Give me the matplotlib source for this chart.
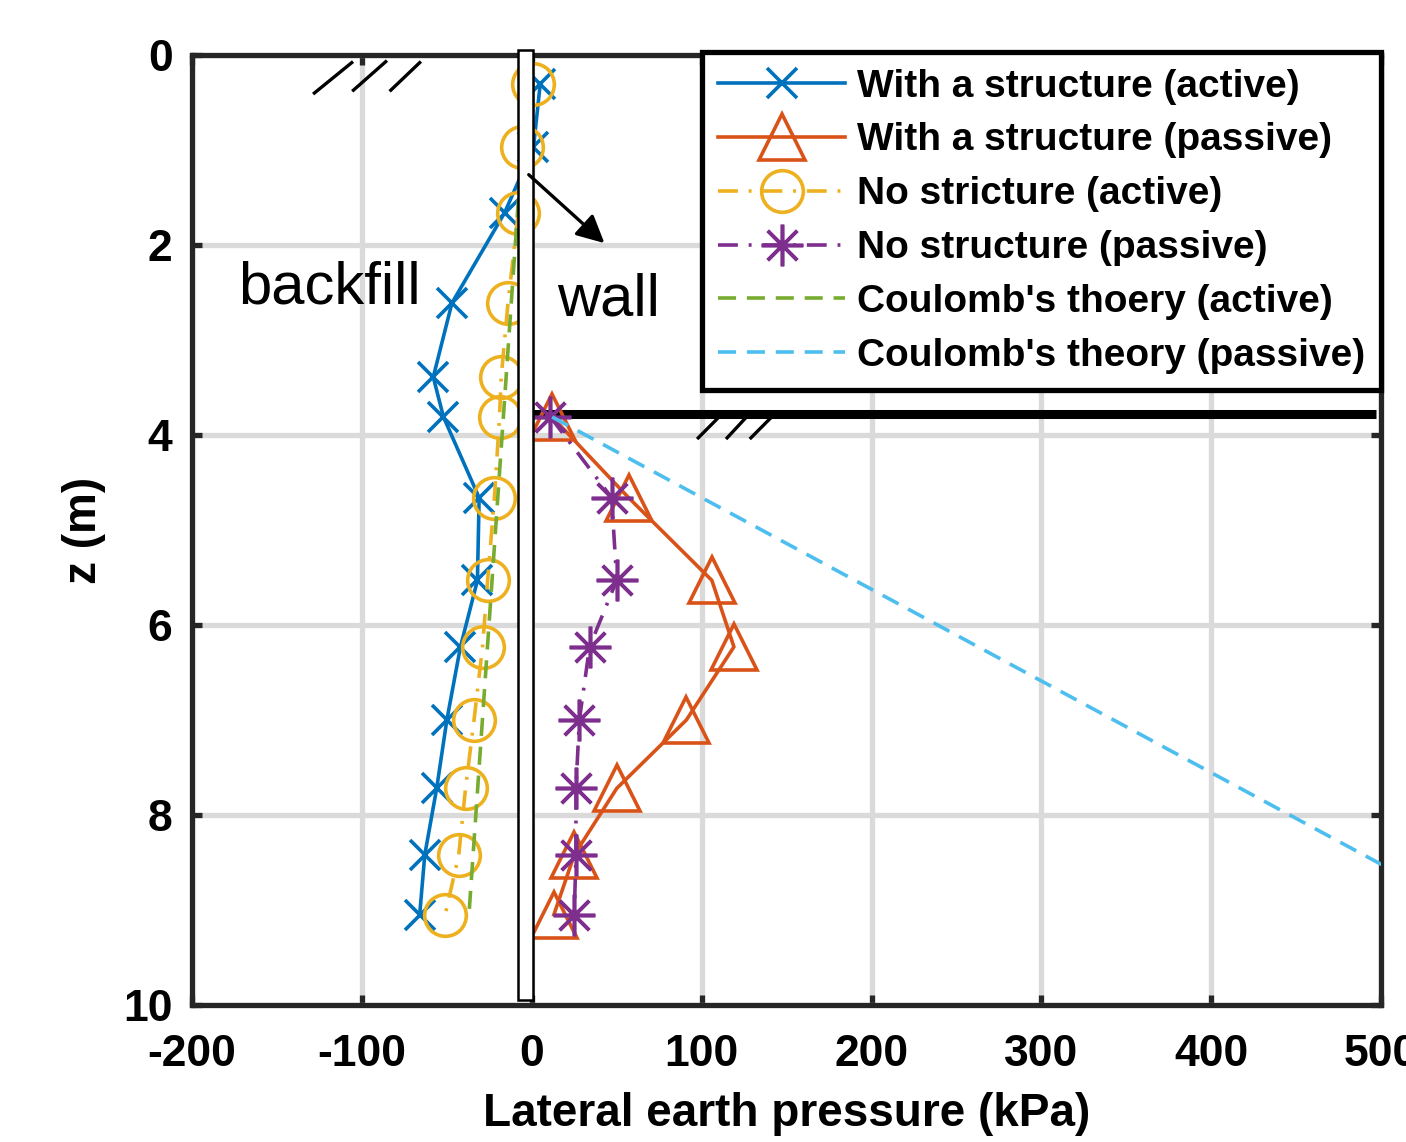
import matplotlib
matplotlib.use('Agg')
import matplotlib.pyplot as plt
from matplotlib.patches import Rectangle

# measured lateral earth pressure (kPa) vs depth z (m)
depth = [0.3, 0.97, 1.66, 2.61, 3.39, 3.81, 4.66, 5.53, 6.23, 7.0, 7.72, 8.42, 9.05]
struct_active = [5, 1, -16, -47, -58, -52, -31, -32, -42, -50, -56, -63, -66]
nostruct_active = [1, -6, -8, -14, -18, -19, -22, -26, -29, -34, -39, -43, -51]

depth_passive = [3.81, 4.66, 5.53, 6.23, 7.0, 7.72, 8.42, 9.05]
struct_passive = [12, 57, 106, 119, 91, 50, 25, 13]
nostruct_passive = [11, 47, 50, 34, 28, 26, 26, 25]

# Coulomb's theory lines
coulomb_active_z = [0.0, 9.05]
coulomb_active = [-2, -37]
coulomb_passive_z = [3.81, 9.05]
coulomb_passive = [12, 555]

labels = ["With a structure (active)", "With a structure (passive)",
          "No stricture (active)", "No structure (passive)",
          "Coulomb's thoery (active)", "Coulomb's theory (passive)"]

# sketch elements: wall, ground surfaces, hatching, arrow
wall_x = [-8, 1]
wall_z = [-0.05, 9.95]
ground_passive_z = 3.78
ground_passive_x = [1, 497]
hatch_top = [([-128, -106], [0.40, 0.08]), ([-105, -86], [0.37, 0.07]), ([-83, -66], [0.37, 0.08])]
hatch_passive = [([98, 113], [4.03, 3.76]), ([115, 129], [4.03, 3.76]), ([129, 144], [4.03, 3.76])]
arrow_from = (-3, 1.24)
arrow_to = (44, 2.0)

plt.rcParams['font.family'] = ['Liberation Sans', 'DejaVu Sans']
plt.rcParams['font.weight'] = 'bold'
plt.rcParams['axes.labelweight'] = 'bold'
plt.rcParams['axes.unicode_minus'] = False

fig = plt.figure(figsize=(14.06, 11.42), dpi=100)
ax = fig.add_axes([0.1366, 0.12, 0.8457, 0.8318])

lw = 2.6
mew = 2.6
dash = (5, 3)
dashdot = (5.5, 3, 0.8, 3)

ax.plot(struct_active, depth, '-', color='#0072BD', lw=lw, marker='x', ms=21, mew=mew, zorder=3)
ax.plot(struct_passive, depth_passive, '-', color='#D95319', lw=lw, marker='^', ms=33,
        mfc='none', mew=mew, zorder=3)
ax.plot(nostruct_active, depth, color='#EDB120', lw=lw, dashes=dashdot, marker='o', ms=30,
        mfc='none', mew=mew, zorder=3)
ax.plot(nostruct_passive, depth_passive, color='#7E2F8E', lw=lw, dashes=dashdot,
        marker=(8, 2, 0), ms=30, mew=mew, zorder=3)
ax.plot(coulomb_active, coulomb_active_z, color='#77AC30', lw=lw, dashes=dash, zorder=3)
ax.plot(coulomb_passive, coulomb_passive_z, color='#4DBEEE', lw=lw, dashes=dash, zorder=3)

# wall
ax.add_patch(Rectangle((wall_x[0], wall_z[0]), wall_x[1] - wall_x[0], wall_z[1] - wall_z[0],
                       facecolor='white', edgecolor='black', lw=1.8, zorder=5, clip_on=False))
# ground surface on passive side
ax.plot(ground_passive_x, [ground_passive_z] * 2, color='black', lw=6.5, zorder=2.5,
        solid_capstyle='butt')
for xs, zs in hatch_top + hatch_passive:
    ax.plot(xs, zs, color='black', lw=2.4, zorder=2.5)
ax.annotate('', xy=arrow_to, xytext=arrow_from,
            arrowprops=dict(arrowstyle='-|>', color='black', lw=2.4, mutation_scale=42),
            zorder=6)

ax.text(-119, 2.45, 'backfill', fontsize=43, fontweight='normal',
        ha='center', va='center')
ax.text(45, 2.58, 'wall', fontsize=43, fontweight='normal',
        ha='center', va='center')

ax.set_xlim(-200, 500)
ax.set_ylim(10, 0)
ax.set_xticks(range(-200, 501, 100))
ax.set_yticks(range(0, 11, 2))
ax.grid(True, color='#dadada', lw=3.8)
ax.set_axisbelow(True)
for s in ax.spines.values():
    s.set_linewidth(3.8)
    s.set_color('#262626')
ax.tick_params(direction='in', length=7, width=3.8, labelsize=32, color='#262626',
               top=True, right=True)
ax.tick_params(axis='x', pad=21)
ax.tick_params(axis='y', pad=14)
ax.set_xlabel('Lateral earth pressure (kPa)', fontsize=33, labelpad=12)
ax.set_ylabel('z (m)', fontsize=33, labelpad=12)

leg = ax.legend(labels, loc='upper right', bbox_to_anchor=(1.0, 1.003), borderaxespad=0,
                fontsize=28, handlelength=3.26, handletextpad=0.3, labelspacing=0.46,
                borderpad=0.42, fancybox=False, framealpha=1, edgecolor='black')
leg.get_frame().set_linewidth(3.8)
leg.set_zorder(10)

fig.savefig('out.png', dpi=100)
